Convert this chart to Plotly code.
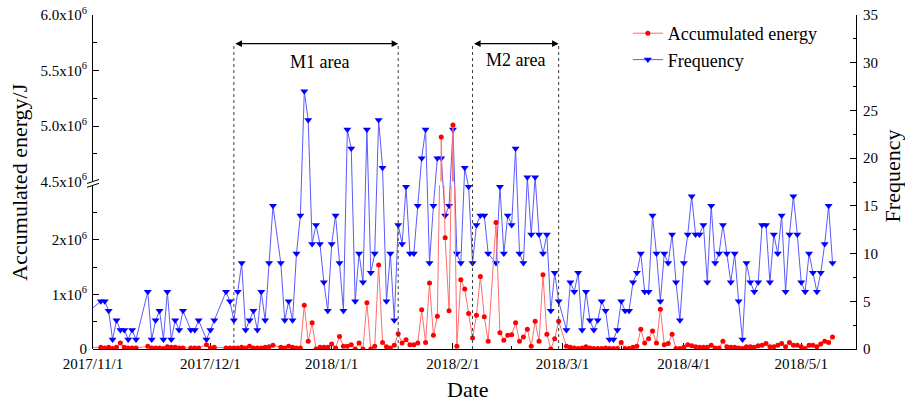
import plotly.graph_objects as go

# ---------------- data ----------------
dates = [
    "2017-10-31",
    "2017-11-03", "2017-11-04", "2017-11-05", "2017-11-06", "2017-11-07", "2017-11-08", "2017-11-09",
    "2017-11-10", "2017-11-11", "2017-11-12", "2017-11-15", "2017-11-16", "2017-11-17", "2017-11-18",
    "2017-11-19", "2017-11-20", "2017-11-21", "2017-11-22", "2017-11-23", "2017-11-24", "2017-11-26",
    "2017-11-27", "2017-11-28", "2017-11-30",
    "2017-12-01", "2017-12-02", "2017-12-05", "2017-12-06", "2017-12-07", "2017-12-08", "2017-12-09",
    "2017-12-10", "2017-12-11", "2017-12-12", "2017-12-13", "2017-12-14", "2017-12-15", "2017-12-16",
    "2017-12-17", "2017-12-19", "2017-12-20", "2017-12-21", "2017-12-22", "2017-12-23", "2017-12-24",
    "2017-12-25", "2017-12-26", "2017-12-27", "2017-12-28", "2017-12-29", "2017-12-30", "2017-12-31",
    "2018-01-01", "2018-01-02", "2018-01-03", "2018-01-04", "2018-01-05", "2018-01-06", "2018-01-07",
    "2018-01-08", "2018-01-09", "2018-01-10", "2018-01-11", "2018-01-12", "2018-01-13", "2018-01-14",
    "2018-01-15", "2018-01-16", "2018-01-17", "2018-01-18", "2018-01-19", "2018-01-20", "2018-01-21",
    "2018-01-22", "2018-01-23", "2018-01-24", "2018-01-25", "2018-01-26", "2018-01-27", "2018-01-28",
    "2018-01-29", "2018-01-30", "2018-01-31",
    "2018-02-01", "2018-02-02", "2018-02-03", "2018-02-04", "2018-02-05", "2018-02-06", "2018-02-07",
    "2018-02-08", "2018-02-09", "2018-02-10", "2018-02-12", "2018-02-13", "2018-02-14", "2018-02-15",
    "2018-02-16", "2018-02-17", "2018-02-18", "2018-02-19", "2018-02-20", "2018-02-21", "2018-02-22",
    "2018-02-23", "2018-02-24", "2018-02-25", "2018-02-26", "2018-02-27", "2018-02-28",
    "2018-03-02", "2018-03-03", "2018-03-04", "2018-03-05", "2018-03-06", "2018-03-07", "2018-03-08",
    "2018-03-09", "2018-03-10", "2018-03-11", "2018-03-12", "2018-03-13", "2018-03-14", "2018-03-15",
    "2018-03-16", "2018-03-17", "2018-03-18", "2018-03-19", "2018-03-20", "2018-03-21", "2018-03-22",
    "2018-03-23", "2018-03-24", "2018-03-25", "2018-03-26", "2018-03-27", "2018-03-28", "2018-03-29",
    "2018-03-30", "2018-03-31",
    "2018-04-01", "2018-04-02", "2018-04-03", "2018-04-04", "2018-04-05", "2018-04-06", "2018-04-07",
    "2018-04-08", "2018-04-09", "2018-04-10", "2018-04-11", "2018-04-12", "2018-04-13", "2018-04-14",
    "2018-04-15", "2018-04-16", "2018-04-17", "2018-04-18", "2018-04-19", "2018-04-20", "2018-04-21",
    "2018-04-22", "2018-04-23", "2018-04-24", "2018-04-25", "2018-04-26", "2018-04-27", "2018-04-28",
    "2018-04-29", "2018-04-30",
    "2018-05-01", "2018-05-02", "2018-05-03", "2018-05-04", "2018-05-05", "2018-05-06", "2018-05-07",
    "2018-05-08", "2018-05-09",
]

frequency = [
    4,
    5, 5, 4, 1, 3, 2, 2, 1, 2, 1, 6, 1, 3, 4, 1, 6, 1, 3, 2, 4, 2, 2, 3, 1,
    2, 3, 6, 5, 3, 6, 9, 2, 3, 4, 2, 6, 3, 9, 15, 9, 3, 5, 3, 10, 14, 27, 24, 11, 13, 11, 7, 4,
    11, 14, 9, 4, 23, 21, 5, 10, 7, 23, 8, 10, 24, 19, 5, 10, 3, 13, 11, 17, 10, 10, 15, 20, 23,
    9, 15, 20, 20, 14, 15,
    23, 10, 9, 19, 17, 9, 13, 14, 14, 10, 9, 17, 10, 14, 13, 21, 10, 9, 18, 12, 18, 12, 10, 12, 4, 8, 5,
    2, 7, 6, 8, 2, 6, 3, 2, 3, 5, 4, 1, 1, 2, 5, 4, 4, 7, 8, 10, 6, 6, 14, 10, 5, 10, 9, 12, 7, 3,
    9, 12, 16, 12, 12, 13, 7, 15, 9, 10, 13, 10, 7, 10, 5, 1, 9, 7, 6, 7, 13, 13, 7, 12, 10, 14, 6,
    12, 16, 12,
    7, 6, 10, 8, 6, 8, 11, 15, 9,
]

# accumulated energy, in units of 10^6 J
energy_e6 = [
    0.03,
    0.03, 0.02, 0.03, 0.01, 0.03, 0.11, 0.03, 0.02, 0.02, 0.02, 0.05, 0.02, 0.02, 0.02, 0.01, 0.04,
    0.03, 0.03, 0.02, 0.02, 0.02, 0.02, 0.02, 0.08,
    0.02, 0.03, 0.02, 0.02, 0.02, 0.02, 0.03, 0.02, 0.05, 0.02, 0.02, 0.02, 0.03, 0.04, 0.07, 0.03,
    0.02, 0.05, 0.03, 0.02, 0.02, 0.80, 0.14, 0.48, 0.00, 0.03, 0.03, 0.03,
    0.09, 0.02, 0.23, 0.05, 0.05, 0.08, 0.00, 0.11, 0.00, 0.85, 0.00, 0.05, 1.54, 0.12, 0.04, 0.02,
    0.07, 0.28, 0.11, 0.17, 0.08, 0.08, 0.11, 0.72, 0.12, 1.21, 0.25, 0.60, 4.90, 2.04, 0.70,
    5.01, 0.05, 1.27, 1.10, 0.65, 0.20, 0.62, 1.33, 0.59, 0.14, 2.32, 0.30, 0.16, 0.25, 0.26, 0.48,
    0.14, 0.22, 0.36, 0.05, 0.51, 0.14, 1.36, 0.27, 0.00, 0.19, 0.51,
    0.05, 0.03, 0.02, 0.01, 0.02, 0.04, 0.02, 0.01, 0.01, 0.01, 0.02, 0.01, 0.01, 0.01, 0.12, 0.01,
    0.01, 0.03, 0.05, 0.36, 0.11, 0.19, 0.33, 0.11, 0.73, 0.08, 0.10, 0.27, 0.01, 0.01,
    0.03, 0.08, 0.06, 0.04, 0.03, 0.03, 0.03, 0.07, 0.02, 0.02, 0.14, 0.04, 0.03, 0.03, 0.02, 0.01,
    0.04, 0.04, 0.03, 0.06, 0.07, 0.10, 0.04, 0.04, 0.07, 0.10, 0.04, 0.12, 0.07, 0.07,
    0.04, 0.01, 0.07, 0.07, 0.04, 0.09, 0.14, 0.12, 0.22,
]
energy = [v * 1e6 for v in energy_e6]

x_range = ["2017-11-01", "2018-05-15"]
x_tick_vals = ["2017-11-01", "2017-12-01", "2018-01-01", "2018-02-01", "2018-03-01", "2018-04-01", "2018-05-01"]
x_tick_text = ["2017/11/1", "2017/12/1", "2018/1/1", "2018/2/1", "2018/3/1", "2018/4/1", "2018/5/1"]
x_minor_vals = ["2017-11-16", "2017-12-16", "2018-01-16", "2018-02-16", "2018-03-16", "2018-04-16"]

low_range = [0, 3e6]
low_tick_vals = [0, 1e6, 2e6]
low_tick_text = ["0", "1x10<sup>6</sup>", "2x10<sup>6</sup>"]
low_minor_vals = [0.5e6, 1.5e6, 2.5e6]

high_range = [4.5e6, 6.0e6]
high_tick_vals = [4.5e6, 5.0e6, 5.5e6, 6.0e6]
high_tick_text = ["4.5x10<sup>6</sup>", "5.0x10<sup>6</sup>", "5.5x10<sup>6</sup>", "6.0x10<sup>6</sup>"]
high_minor_vals = [4.75e6, 5.25e6, 5.75e6]

freq_range = [0, 35]
freq_tick_vals = [0, 5, 10, 15, 20, 25, 30, 35]
freq_minor_vals = [2.5, 7.5, 12.5, 17.5, 22.5, 27.5, 32.5]

region_names = ["M1 area", "M2 area"]
region_starts = ["2017-12-07", "2018-02-06"]
region_ends = ["2018-01-18", "2018-02-28"]
region_label_x = ["2017-12-29", "2018-02-17"]
region_arrow_level = 32      # on the frequency scale
region_label_level = [30.1, 30.3]

# ---------------- styling ----------------
FONT = "Liberation Serif"
RED = "rgb(255,0,0)"
RED_LINE = "rgb(255,110,110)"
BLUE = "rgb(0,0,255)"
BLUE_LINE = "rgb(90,90,255)"
LOW_TOP = 0.49
HIGH_BOTTOM = 0.5015

fig = go.Figure()

fig.add_trace(go.Scatter(
    x=dates, y=frequency, xaxis="x", yaxis="y", mode="lines+markers", name="Frequency",
    line=dict(color=BLUE_LINE, width=1),
    marker=dict(symbol="triangle-down", size=7, color=BLUE),
    legendrank=2,
))
fig.add_trace(go.Scatter(
    x=dates, y=energy, xaxis="x", yaxis="y2", mode="lines+markers", name="Accumulated energy",
    line=dict(color=RED_LINE, width=1),
    marker=dict(symbol="circle", size=5, color=RED),
    legendrank=1,
))
fig.add_trace(go.Scatter(
    x=dates, y=energy, xaxis="x", yaxis="y3", mode="lines+markers", name="Accumulated energy",
    line=dict(color=RED_LINE, width=1),
    marker=dict(symbol="circle", size=5, color=RED),
    showlegend=False,
))

axis_common = dict(
    showline=True, linecolor="black", linewidth=1, showgrid=False, zeroline=False,
    ticks="inside", ticklen=6, tickwidth=1, tickcolor="black", automargin=False,
    tickfont=dict(family=FONT, size=15, color="black"),
)
minor_common = dict(ticks="inside", ticklen=3.5, tickwidth=1, tickcolor="black", tickmode="array")

fig.update_layout(
    width=905, height=404,
    margin=dict(l=93, r=49, t=15, b=55, autoexpand=False),
    paper_bgcolor="white", plot_bgcolor="rgba(0,0,0,0)",
    font=dict(family=FONT, color="black"),
    xaxis=dict(
        type="date", range=x_range, anchor="y", domain=[0, 1],
        tickmode="array", tickvals=x_tick_vals, ticktext=x_tick_text,
        minor=dict(tickvals=x_minor_vals, **minor_common),
        ticklabelstandoff=1,
        **axis_common,
    ),
    yaxis=dict(
        range=freq_range, domain=[0, 1], anchor="x", side="right",
        tickmode="array", tickvals=freq_tick_vals,
        minor=dict(tickvals=freq_minor_vals, **minor_common),
        ticklabelstandoff=3,
        **axis_common,
    ),
    yaxis2=dict(
        range=low_range, domain=[0, LOW_TOP], anchor="x", side="left",
        tickmode="array", tickvals=low_tick_vals, ticktext=low_tick_text,
        minor=dict(tickvals=low_minor_vals, **minor_common),
        ticklabelstandoff=2,
        **axis_common,
    ),
    yaxis3=dict(
        range=high_range, domain=[HIGH_BOTTOM, 1], anchor="x", side="left",
        tickmode="array", tickvals=high_tick_vals, ticktext=high_tick_text,
        minor=dict(tickvals=high_minor_vals, **minor_common),
        ticklabelstandoff=2,
        **axis_common,
    ),
    legend=dict(
        x=0.701, y=1.0, xanchor="left", yanchor="top",
        bgcolor="rgba(0,0,0,0)", borderwidth=0,
        font=dict(family=FONT, size=18, color="black"),
        tracegroupgap=0,
    ),
    showlegend=True,
)

shapes = []
annotations = []
for start, end in zip(region_starts, region_ends):
    for xv in (start, end):
        shapes.append(dict(
            type="line", xref="x", yref="y", x0=xv, x1=xv, y0=0, y1=region_arrow_level,
            line=dict(color="rgb(60,60,60)", width=1, dash="dot"),
        ))
    annotations.append(dict(
        xref="x", yref="y", axref="x", ayref="y",
        x=end, y=region_arrow_level, ax=start, ay=region_arrow_level,
        text="", showarrow=True, arrowhead=2, arrowside="end+start",
        arrowsize=1.2, arrowwidth=1.1, arrowcolor="black", standoff=0, startstandoff=0,
    ))
for name, xl, yl in zip(region_names, region_label_x, region_label_level):
    annotations.append(dict(
        xref="x", yref="y", x=xl, y=yl, text=name, showarrow=False,
        font=dict(family=FONT, size=18, color="black"), xanchor="center", yanchor="middle",
    ))

# broken-axis marks
for anchor in (LOW_TOP, HIGH_BOTTOM):
    shapes.append(dict(
        type="line", xref="paper", yref="paper",
        xsizemode="pixel", xanchor=0, x0=-6, x1=6,
        ysizemode="pixel", yanchor=anchor, y0=-2, y1=2,
        line=dict(color="black", width=1),
    ))

# axis titles
annotations.append(dict(
    xref="paper", yref="paper", x=-0.0957, y=0.501, text="Accumulated energy/J",
    textangle=-90, showarrow=False, font=dict(family=FONT, size=22, color="black"),
    xanchor="center", yanchor="middle",
))
annotations.append(dict(
    xref="paper", yref="paper", x=1.049, y=0.518, text="Frequency",
    textangle=-90, showarrow=False, font=dict(family=FONT, size=22, color="black"),
    xanchor="center", yanchor="middle",
))
annotations.append(dict(
    xref="paper", yref="paper", x=0.491, y=-0.122, text="Date",
    showarrow=False, font=dict(family=FONT, size=22, color="black"),
    xanchor="center", yanchor="middle",
))

fig.update_layout(shapes=shapes, annotations=annotations)
fig.write_html(
    "out.html",
    config={"displayModeBar": False},
    post_script="document.body.style.margin='0';document.body.style.overflow='hidden';",
)
